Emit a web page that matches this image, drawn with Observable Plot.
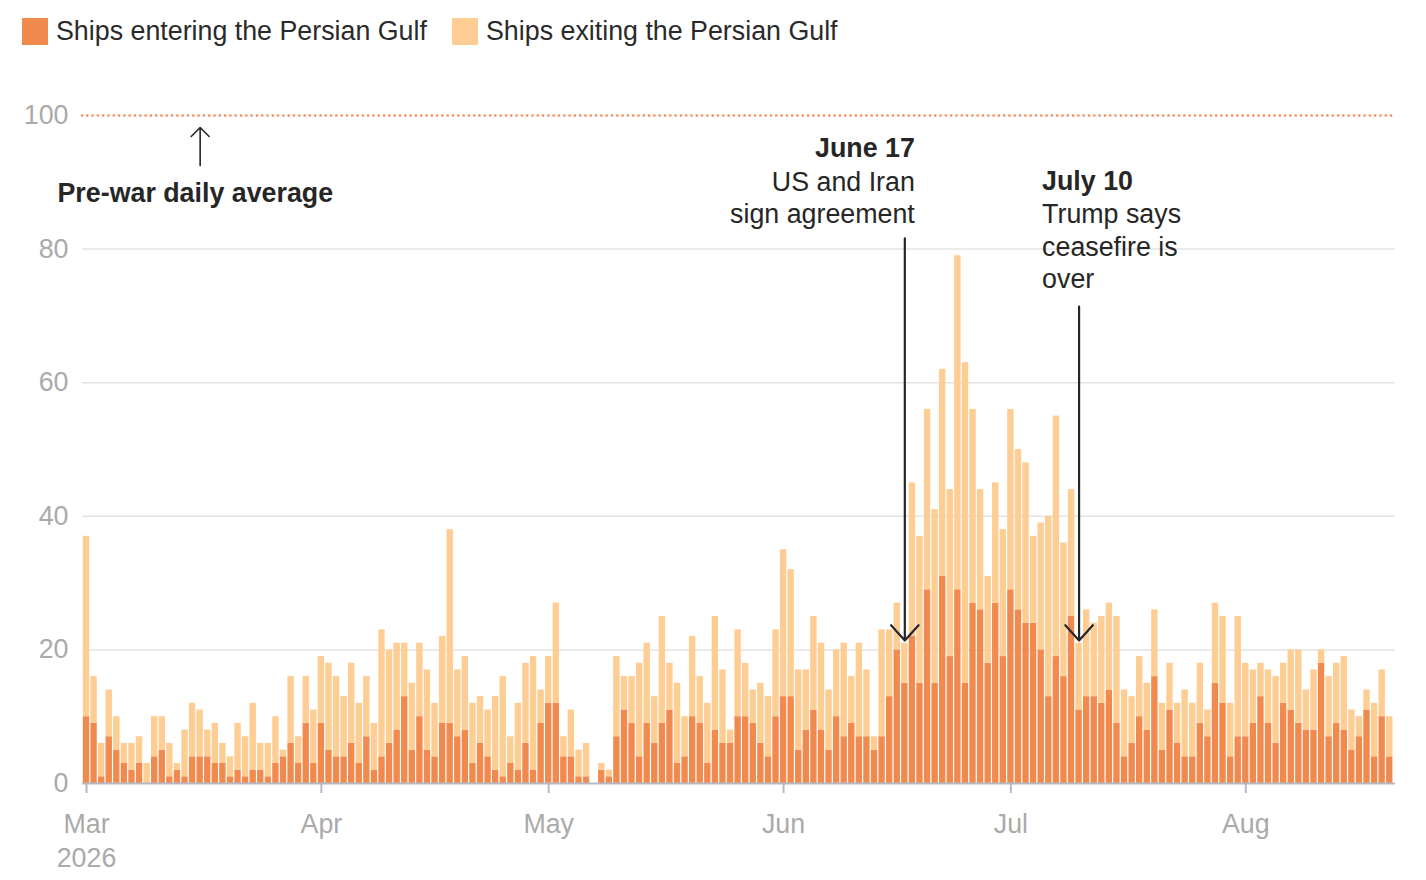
<!DOCTYPE html>
<html><head><meta charset="utf-8">
<script src="https://cdn.jsdelivr.net/npm/d3@7"></script>
<script src="https://cdn.jsdelivr.net/npm/@observablehq/plot@0.6"></script>
<style>
body{margin:0;background:#fff;font-family:"Liberation Sans",Arial,sans-serif;}
#legend{height:60px;position:relative;}
.item{position:absolute;top:17px;height:28px;display:flex;align-items:center;font-size:26.8px;color:#2a2a2a;white-space:nowrap;}
.sw{width:26px;height:27px;margin-right:8px;}
</style></head><body>
<div id="legend"></div><div id="chart"></div>
<script>
// Daily counts, 1 March 2026 – 20 August 2026
const startDate = "2026-03-01";
const seriesNames = ["Ships entering the Persian Gulf", "Ships exiting the Persian Gulf"];
const seriesColors = ["#f08a4f", "#fecd93"];

const entering = [
  10,9,1,7,5,3,2,3,0,4,5,1,2,1,4,4,4,3,3,1,2,1,2,2,1,3,4,6,3,9,
  3,9,5,4,4,6,3,7,2,4,6,8,13,5,10,5,4,9,9,7,8,3,6,4,2,1,3,2,6,
  2,9,12,12,4,4,1,1,0,2,1,7,11,9,4,9,6,9,11,3,4,10,9,3,8,6,6,10,10,9,
  6,4,10,13,13,5,8,11,8,5,10,7,9,7,7,5,7,13,20,15,
  22,15,29,15,31,19,29,15,27,26,18,27,19,29,26,24,24,20,13,19,16,25,11,13,13,12,14,
  9,4,6,10,8,16,5,11,6,4,4,9,7,15,12,4,7,7,9,13,9,6,12,11,9,8,8,18,7,9,8,5,7,11,4,10,4
];
const exiting = [
  27,7,5,7,5,3,4,4,3,6,5,5,1,7,8,7,4,6,3,3,7,6,10,4,5,7,1,10,4,7,
  8,10,13,12,9,12,9,9,7,19,14,13,8,10,11,12,8,13,29,10,11,9,7,7,11,15,4,10,12,
  17,5,7,15,3,7,4,5,0,1,1,12,5,7,14,12,7,16,7,12,6,12,7,9,17,11,2,13,8,5,
  9,9,13,22,19,12,9,14,13,9,10,14,7,14,10,2,16,10,7,6,
  23,22,27,26,31,25,50,48,29,18,13,18,19,27,24,24,13,19,27,36,20,19,10,13,11,13,13,
  16,10,7,9,7,10,7,7,6,10,8,9,4,12,13,8,18,11,8,5,8,10,6,9,11,6,9,2,9,9,11,6,3,3,8,7,6
];
const monthTicks = ["2026-03-01","2026-04-01","2026-05-01","2026-06-01","2026-07-01","2026-08-01"];
const monthLabels = ["Mar\n2026","Apr","May","Jun","Jul","Aug"];
const yTicks = [0,20,40,60,80,100];
const prewarAverage = 100;

// legend
const legend = document.getElementById("legend");
[22, 452].forEach((left, i) => {
  const d = document.createElement("div");
  d.className = "item"; d.style.left = left + "px";
  d.innerHTML = `<span class="sw" style="background:${seriesColors[i]}"></span><span>${seriesNames[i]}</span>`;
  legend.appendChild(d);
});

const DAY = 864e5;
const t0 = new Date(startDate + "T00:00:00Z");
const rows = [];
[entering, exiting].forEach((arr, s) => arr.forEach((v, i) => {
  rows.push({date: new Date(+t0 + i * DAY), value: v, type: seriesNames[s]});
}));
const dOf = s => new Date(s + "T00:00:00Z");
const ink = "#262626";
const font = 26.8;

const chart = Plot.plot({
  width: 1426, height: 820,
  marginLeft: 82, marginRight: 31, marginTop: 55, marginBottom: 97,
  style: {fontFamily: '"Liberation Sans", Arial, sans-serif', background: "#fff"},
  x: {type: "utc", domain: [new Date(+t0 - 0.528 * DAY), new Date(+t0 + 172.76 * DAY)]},
  y: {domain: [0, 100]},
  color: {domain: seriesNames, range: seriesColors},
  marks: [
    Plot.gridY([20, 40, 60, 80], {stroke: "#e3e3e3", strokeOpacity: 1, strokeWidth: 1.5}),
    Plot.ruleY([prewarAverage], {stroke: seriesColors[0], strokeWidth: 2.6, strokeDasharray: "0 5.3", strokeLinecap: "round"}),
    Plot.rectY(rows, {
      x1: d => new Date(+d.date - DAY / 2), x2: d => new Date(+d.date + DAY / 2),
      y: "value", fill: "type", insetLeft: 0.6, insetRight: 0.6
    }),
    Plot.ruleY([0], {stroke: "#b3bac6", strokeWidth: 2}),
    Plot.axisY({ticks: yTicks, tickSize: 0, tickPadding: 14, fontSize: font, color: "#aaaaaa", label: null}),
    Plot.axisX({ticks: monthTicks.map(dOf), tickFormat: (d, i) => monthLabels[i], tickSize: 10, tickPadding: 15,
      fontSize: font, color: "#aaaaaa", lineHeight: 1.27, stroke: "#b3bac6", strokeWidth: 2, label: null}),
    // Pre-war annotation
    Plot.arrow([0], {x1: dOf("2026-03-16"), x2: dOf("2026-03-16"), y1: 92.5, y2: 98.2,
      stroke: ink, strokeWidth: 1.6, headAngle: 90, headLength: 12}),
    Plot.text(["Pre-war daily average"], {x: dOf("2026-03-01"), dx: -29, y: 88.3, textAnchor: "start",
      fontWeight: "bold", fontSize: font, fill: ink}),
    // June 17
    Plot.arrow([0], {x1: dOf("2026-06-17"), x2: dOf("2026-06-17"), y1: 81.6, y2: 21.4,
      stroke: ink, strokeWidth: 2.2, headAngle: 84, headLength: 14}),
    Plot.text(["June 17"], {x: dOf("2026-06-17"), dx: 10, y: 95.06, textAnchor: "end", fontWeight: "bold", fontSize: font, fill: ink}),
    Plot.text(["US and Iran\nsign agreement"], {x: dOf("2026-06-17"), dx: 10, y: 87.87, textAnchor: "end",
      lineHeight: 32 / font, fontSize: font, fill: ink}),
    // July 10
    Plot.arrow([0], {x1: dOf("2026-07-10"), x2: dOf("2026-07-10"), y1: 71.4, y2: 21.4,
      stroke: ink, strokeWidth: 2.2, headAngle: 84, headLength: 14}),
    Plot.text(["July 10"], {x: dOf("2026-07-10"), dx: -37, y: 90.12, textAnchor: "start", fontWeight: "bold", fontSize: font, fill: ink}),
    Plot.text(["Trump says\nceasefire is\nover"], {x: dOf("2026-07-10"), dx: -37, y: 80.54, textAnchor: "start",
      lineHeight: 32.5 / font, fontSize: font, fill: ink})
  ]
});
document.getElementById("chart").appendChild(chart);
</script>
</body></html>
